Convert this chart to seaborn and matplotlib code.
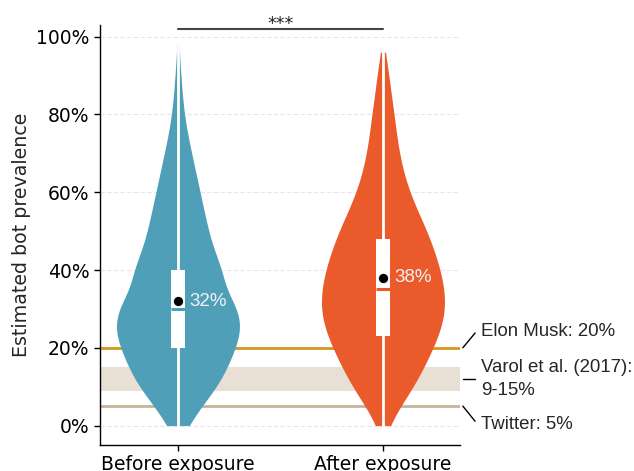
import numpy as np
import pandas as pd
import matplotlib
matplotlib.use("Agg")
import matplotlib.pyplot as plt
import matplotlib.transforms as mtransforms
import seaborn as sns

# ---- data -------------------------------------------------------------
groups = ["Before exposure", "After exposure"]

# estimated prevalence levels and how many participants gave each one
prevalence_levels = [0.00, 0.05, 0.10, 0.15, 0.20, 0.25, 0.30, 0.35, 0.40, 0.45,
                     0.50, 0.55, 0.60, 0.65, 0.70, 0.75, 0.80, 0.85, 0.90, 0.95]
before_counts = [10, 22, 38, 47, 55, 61, 58, 44, 43, 34,
                 29, 25, 21, 17, 13, 9, 6, 4, 3, 1]
after_counts = [6, 17, 30, 40, 49, 57, 61, 60, 56, 50,
                43, 34, 26, 20, 16, 13, 11, 8, 6, 2]
max_estimate = [0.98, 0.96]

# summary statistics per group
q1 = [0.20, 0.23]
medians = [0.30, 0.35]
q3 = [0.40, 0.48]
means = [0.32, 0.38]
mean_labels = ["32%", "38%"]

# reference estimates
musk_value = 0.20
varol_range = (0.09, 0.15)
twitter_value = 0.05
ref_texts = ["Elon Musk: 20%", "Varol et al. (2017):\n9-15%", "Twitter: 5%"]

significance = "***"

# ---- tidy frame for seaborn -------------------------------------------
frames = []
for g, counts, top in zip(groups, [before_counts, after_counts], max_estimate):
    vals = np.repeat(prevalence_levels, counts)
    vals = np.append(vals, top)
    frames.append(pd.DataFrame({"group": g, "estimate": vals}))
df = pd.concat(frames, ignore_index=True)

colors = ["#4F9FB9", "#EA5A2A"]
musk_color = "#D4961E"
band_color = "#E8E0D5"
twitter_color = "#C5B59B"

sns.set_style("ticks")
plt.rcParams["font.family"] = ["DejaVu Sans"]

fig = plt.figure(figsize=(6.34, 4.71), dpi=100)
ax = fig.add_axes([0.1577, 0.0552, 0.5678, 0.8917])

# reference lines / band behind the violins
ax.axhspan(*varol_range, color=band_color, lw=0, zorder=0.5)
ax.axhline(musk_value, color=musk_color, lw=2, zorder=0.6)
ax.axhline(twitter_value, color=twitter_color, lw=2, zorder=0.6)

sns.violinplot(data=df, x="group", y="estimate", hue="group", palette=colors,
               order=groups, hue_order=groups, legend=False, inner=None,
               cut=0, bw_adjust=0.7, density_norm="width", width=0.6,
               linewidth=0, saturation=1, ax=ax, zorder=1)

xpos = np.arange(len(groups))
# whiskers spanning full range
ax.vlines(xpos, [0, 0], max_estimate, color="white", lw=2, zorder=2)
# interquartile boxes
box_w = 0.068
ax.bar(xpos, np.array(q3) - np.array(q1), bottom=q1, width=box_w,
       color="white", lw=0, zorder=3)
# median marks in the violin colour
for x, m, c in zip(xpos, medians, colors):
    ax.hlines(m, x - box_w / 2, x + box_w / 2, color=c, lw=2.2, zorder=4)
# means
ax.scatter(xpos, means, s=45, color="black", zorder=5, lw=0)
for x, m, lab in zip(xpos, means, mean_labels):
    ax.text(x + 0.055, m, lab, color="#F2F2F2", fontsize=13.5,
            family=["Liberation Sans"], va="center", ha="left", zorder=6)

# significance bracket
ax.plot([0, 1], [1.02, 1.02], color="#444444", lw=1.5, clip_on=False, zorder=5)
ax.text(0.5, 1.02, significance, ha="center", va="baseline", fontsize=12.5,
        color="#222222", clip_on=False)

# axes styling
ax.set_xlim(-0.3805, 1.3756)
ax.set_ylim(-0.05, 1.03)
ax.set_yticks([0, 0.2, 0.4, 0.6, 0.8, 1.0])
ax.set_yticklabels(["0%", "20%", "40%", "60%", "80%", "100%"])
ax.set_xlabel("")
ax.set_ylabel("Estimated bot prevalence", fontsize=13.7)
ax.tick_params(axis="both", labelsize=13.5, length=4, width=1, colors="black")
ax.yaxis.grid(True, linestyle=(0, (4, 2)), color="#E6E6E6", lw=0.8)
ax.set_axisbelow(True)
for side in ["top", "right"]:
    ax.spines[side].set_visible(False)
for side in ["left", "bottom"]:
    ax.spines[side].set_linewidth(1)
    ax.spines[side].set_color("black")

# labels for the reference estimates, outside the axes on the right
trans = mtransforms.blended_transform_factory(ax.transAxes, ax.transData)
label_y = [0.241, 0.12, 0.002]
line_start = [musk_value, np.mean(varol_range), twitter_value]
line_end = [0.238, 0.12, 0.011]
for txt, ty, ys, ye in zip(ref_texts, label_y, line_start, line_end):
    ax.plot([1.008, 1.042], [ys, ye], color="black", lw=1,
            transform=trans, clip_on=False)
    ax.text(1.058, ty, txt, transform=trans, fontsize=13.4,
            family=["Liberation Sans"], va="center", ha="left",
            linespacing=1.45, clip_on=False)

fig.savefig("out.png", dpi=100)
